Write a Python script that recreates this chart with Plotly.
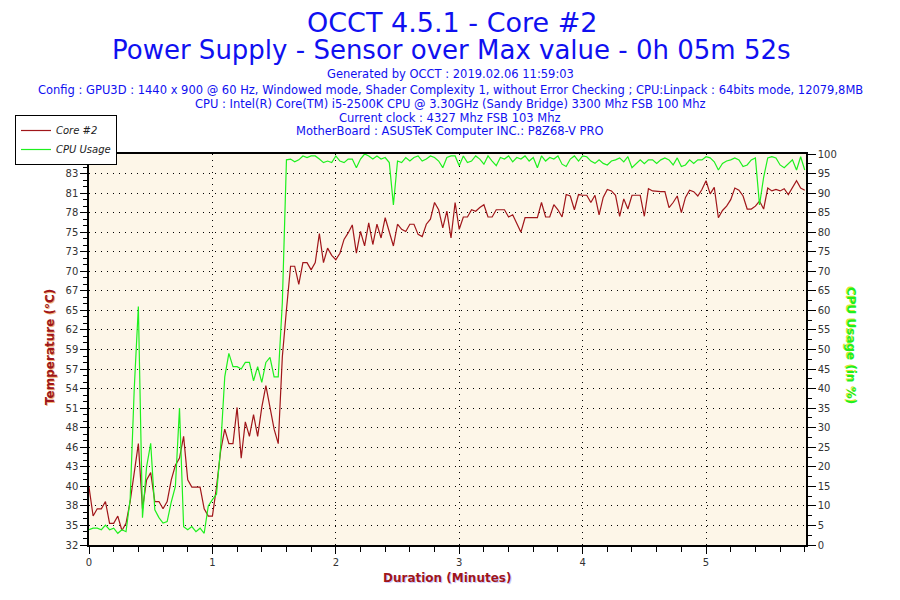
import plotly.graph_objects as go

# ================== DATA ==================
sample_sec = 2  # one reading every 2 s

core2_temp = [
    40, 36, 37, 37, 38, 35, 35, 36, 34, 35,
    38, 42, 46, 37, 41, 42, 38, 38, 37, 38,
    41, 43, 44, 47, 41, 40, 40, 40, 37, 36,
    36, 40, 45, 48, 46, 46, 51, 44, 49, 47,
    50, 47, 51, 54, 51, 48, 46, 58, 64.5, 70.5,
    70.5, 68, 71, 71, 70, 71, 75, 71, 73, 72,
    71.4, 72.3, 74.2, 75.1, 76.2, 72.3, 75.3, 73.3, 76.5, 73.5,
    76.3, 74.4, 77.2, 75.3, 73.3, 76.3, 75.6, 75.3, 76.3, 76.3,
    74.9, 74.6, 76.3, 77.0, 79.3, 78.3, 75.8, 78.1, 74.4, 79.3,
    75.6, 77.3, 77.3, 78.3, 78.1, 78.6, 79.0, 77.3, 77.3, 78.3,
    78.3, 78.3, 77.3, 77.6, 76.4, 75.2, 77.2, 77.2, 77.2, 77.2,
    79.3, 77.3, 77.3, 79.0, 78.3, 77.3, 80.4, 80.2, 78.3, 80.4,
    80.3, 80.3, 79.3, 80.3, 77.6, 80.0, 81.1, 80.9, 80.3, 77.4,
    79.8, 78.4, 80.3, 80.3, 80.3, 77.4, 81.2, 80.9, 80.8, 80.8,
    80.8, 78.6, 79.3, 80.2, 77.9, 80.0, 81.0, 80.8, 80.2, 81.1,
    82.3, 80.5, 81.4, 77.2, 78.2, 78.8, 79.7, 81.3, 81.0, 80.2,
    78.4, 78.4, 78.8, 79.5, 78.4, 81.3, 80.9, 81.1, 80.9, 81.2,
    80.4, 81.4, 82.3, 81.3, 81.0,
]

cpu_usage = [
    3.9, 4.3, 4.3, 3.9, 5.1, 3.9, 4.3, 3.0, 3.9, 3.4,
    11.6, 40, 61, 7, 20, 26, 9, 7, 5.6, 6,
    11, 15, 35, 4.7, 3.9, 4.7, 3.4, 4.3, 3.0, 10,
    11.6, 13, 25, 43, 49, 45.6, 45.6, 45, 46.7, 46.7,
    42, 45.6, 41.6, 46.7, 48, 43, 43, 62, 98.5, 98.7,
    98.0, 98.5, 99.5, 99.1, 99.5, 99.5, 98.7, 97.8, 98.2, 97.8,
    99.5, 98.2, 97.8, 98.7, 98.7, 96.5, 98.7, 100, 99.5, 98.7,
    99.5, 98.7, 99.1, 97.8, 87, 98.2, 97.8, 99.1, 98.2, 99.1,
    99.5, 98.2, 98.7, 99.5, 99.1, 98.2, 96.5, 99.1, 99.5, 99.5,
    97.0, 99.5, 97.8, 98.2, 99.5, 98.7, 97.4, 99.5, 98.2, 97.0,
    99.1, 98.7, 99.5, 98.0, 99.1, 98.7, 99.5, 98.2, 99.1, 96.5,
    99.5, 98.2, 99.1, 98.7, 99.5, 97.4, 96.8, 98.7, 99.5, 98.2,
    99.5, 99.3, 98.2, 97.6, 98.5, 97.6, 97.2, 98.2, 98.5, 99.0,
    98.0, 99.3, 96.5, 97.6, 98.5, 97.5, 98.5, 98.5, 97.6, 98.5,
    99.0, 98.5, 97.2, 99.0, 96.8, 97.2, 98.5, 97.6, 98.5, 98.5,
    99.3, 99.0, 98.0, 95.9, 97.6, 98.2, 98.5, 99.0, 98.5, 96.8,
    97.2, 98.5, 99.0, 87, 94, 99.0, 99.3, 99.0, 97.2, 96.5,
    97.6, 98.5, 95.9, 99.3, 95.9,
]

minutes = [i * sample_sec / 60 for i in range(len(core2_temp))]

temp_tickvals = [32 + 2.7 * k for k in range(21)]
temp_ticktext = ["32", "35", "38", "40", "43", "46", "48", "51", "54", "57", "59",
                 "62", "65", "67", "70", "73", "75", "78", "81", "83", "86"]

title_lines = [
    "OCCT 4.5.1 - Core #2",
    "Power Supply - Sensor over Max value - 0h 05m 52s",
]
info_lines = [
    "Generated by OCCT : 2019.02.06 11:59:03",
    "Config : GPU3D : 1440 x 900 @ 60 Hz, Windowed mode, Shader Complexity 1, without Error Checking ; CPU:Linpack : 64bits mode, 12079,8MB",
    "CPU : Intel(R) Core(TM) i5-2500K CPU @ 3.30GHz (Sandy Bridge) 3300 Mhz FSB 100 Mhz",
    "Current clock : 4327 Mhz FSB 103 Mhz",
    "MotherBoard : ASUSTeK Computer INC.: P8Z68-V PRO",
]

# ================== STYLE ==================
RED = "#A0161A"
GREEN = "#1EF01E"
BLUE = "#1010F0"
FONT = "DejaVu Sans"
grid = dict(showgrid=True, gridcolor="black", gridwidth=1, griddash="1px,5px")

# page body adds an 8px offset, so the margins are the target pixels minus 8
OFF = 8

# pixel helpers (plot area 89..806 x 154..545 in the 900x600 screenshot)
def px(x):
    return (x - 89) / 717

def py(y):
    return (545 - y) / 391

def note(text, x, y, size, color, angle=0, shadow=None):
    f = dict(family=FONT, size=size, color=color)
    if shadow:
        f["shadow"] = shadow
    return dict(text=text, x=px(x), y=py(y), xref="paper", yref="paper",
                xanchor="center", yanchor="middle", textangle=angle,
                showarrow=False, font=f)

# ================== FIGURE ==================
fig = go.Figure()
fig.add_trace(go.Scatter(x=minutes, y=core2_temp, name="Core #2", mode="lines",
                         line=dict(color=RED, width=1.2), yaxis="y"))
fig.add_trace(go.Scatter(x=minutes, y=cpu_usage, name="CPU Usage", mode="lines",
                         line=dict(color=GREEN, width=1.2), yaxis="y2"))

ann = [note(title_lines[0], 452, 22, 27, BLUE),
       note(title_lines[1], 451, 50, 26, BLUE)]
for txt, y in zip(info_lines, [74, 90, 104, 118, 131]):
    ann.append(note(txt, 450, y, 11.5, BLUE))
ann.append(note("<b>Temperature (°C)</b>", 50, 347, 12, RED, -90,
                "-1px 1px 0px rgba(240,150,60,0.7)"))
ann.append(note("<b>CPU Usage (in %)</b>", 851, 345, 12, GREEN, 90,
                "-1px 1px 0px rgba(220,220,0,0.8)"))
ann.append(note("<b>Duration (Minutes)</b>", 447, 578, 12, RED, 0,
                "1px 1px 0px rgba(150,150,255,0.5)"))

fig.update_layout(
    width=900, height=600,
    margin=dict(l=89 - OFF, r=900 - 806 + OFF, t=154 - OFF, b=600 - 545 + OFF, autoexpand=False),
    paper_bgcolor="white",
    plot_bgcolor="#FDF6E8",
    font=dict(family=FONT, size=10, color="#333333"),
    showlegend=True,
    legend=dict(x=px(15), y=py(115), xanchor="left", yanchor="top",
                bgcolor="white", bordercolor="black", borderwidth=1,
                font=dict(family=FONT, size=10, color="#222222", style="italic"),
                itemwidth=30, tracegroupgap=0),
    annotations=ann,
    xaxis=dict(range=[0, 5.81], tickmode="linear", tick0=0, dtick=1,
               ticks="outside", ticklen=7, tickcolor="black",
               minor=dict(dtick=0.2, tick0=0, ticks="outside", ticklen=5, tickcolor="black"),
               showline=True, linecolor="black", linewidth=1.5, mirror=True,
               zeroline=False, **grid),
    yaxis=dict(range=[32, 86], tickmode="array", tickvals=temp_tickvals, ticktext=temp_ticktext,
               ticks="outside", ticklen=7, tickcolor="black",
               minor=dict(tick0=32, dtick=0.9, ticks="outside", ticklen=4, tickcolor="black"),
               showline=True, linecolor="black", linewidth=1.5,
               zeroline=False, **grid),
    yaxis2=dict(range=[0, 100], overlaying="y", side="right", tickmode="linear", tick0=0, dtick=5,
                ticks="outside", ticklen=8, tickcolor="black",
                minor=dict(dtick=2.5, ticks="outside", ticklen=4, tickcolor="black"),
                showline=True, linecolor="black", linewidth=1.5,
                showgrid=False, zeroline=False),
)

fig.write_html("out.html")
